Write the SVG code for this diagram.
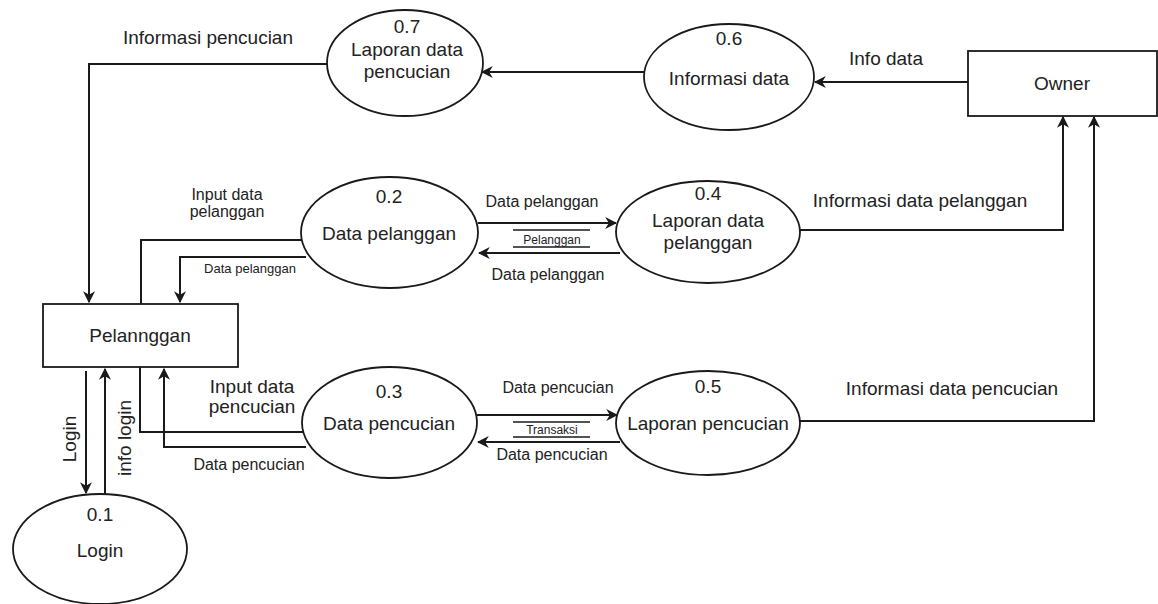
<svg xmlns="http://www.w3.org/2000/svg" width="1158" height="604" viewBox="0 0 1158 604">
<style>
.shape{fill:#fff;stroke:#1a1a1a;stroke-width:1.8}
.ln{fill:none;stroke:#1a1a1a;stroke-width:2}
.st{fill:none;stroke:#1a1a1a;stroke-width:1.6}
text{font-family:"Liberation Sans",Arial,sans-serif;fill:#222;text-anchor:middle}
.lg{font-size:19px}
.md{font-size:16px}
.sm{font-size:13px}
.xs{font-size:12px}
</style>
<defs>
<marker id="arr" viewBox="0 0 10 10" refX="9" refY="5" markerWidth="12" markerHeight="12" orient="auto" markerUnits="userSpaceOnUse">
<path d="M0,0 L10,5 L0,10 L3,5 z" fill="#1a1a1a"/>
</marker>
</defs>
<rect width="1158" height="604" fill="#fff"/>
<g id="connectors">
<path class="ln" d="M327,64 H89 V302" marker-end="url(#arr)"/>
<path class="ln" d="M644,72 H482" marker-end="url(#arr)"/>
<path class="ln" d="M968,82 H815" marker-end="url(#arr)"/>
<path class="ln" d="M302,240 H141 V304"/>
<path class="ln" d="M306,257 H180 V302" marker-end="url(#arr)"/>
<path class="ln" d="M478,223 H616" marker-end="url(#arr)"/>
<path class="ln" d="M620,253 H479" marker-end="url(#arr)"/>
<path class="ln" d="M800,230 H1063 V117" marker-end="url(#arr)"/>
<path class="ln" d="M86,371 V493" marker-end="url(#arr)"/>
<path class="ln" d="M105,494 V369" marker-end="url(#arr)"/>
<path class="ln" d="M140,367 V432 H303"/>
<path class="ln" d="M306,447 H164 V369" marker-end="url(#arr)"/>
<path class="ln" d="M477,415 H617" marker-end="url(#arr)"/>
<path class="ln" d="M620,442 H478" marker-end="url(#arr)"/>
<path class="ln" d="M800,421 H1094 V117" marker-end="url(#arr)"/>
<line class="st" x1="513" y1="230" x2="590" y2="230"/>
<line class="st" x1="513" y1="247" x2="590" y2="247"/>
<line class="st" x1="513" y1="422" x2="590" y2="422"/>
<line class="st" x1="513" y1="437" x2="590" y2="437"/>
<text class="xs" x="552" y="244">Pelanggan</text>
<text class="xs" x="552" y="434">Transaksi</text>
<text class="lg" x="208" y="44">Informasi pencucian</text>
<text class="lg" x="886" y="65">Info data</text>
<text class="md" x="227" y="200">Input data</text>
<text class="md" x="227" y="217">pelanggan</text>
<text class="sm" x="250" y="273">Data pelanggan</text>
<text class="md" x="542" y="207">Data pelanggan</text>
<text class="md" x="548" y="280">Data pelanggan</text>
<text class="lg" x="920" y="207">Informasi data pelanggan</text>
<text class="lg" x="252" y="393">Input data</text>
<text class="lg" x="252" y="413">pencucian</text>
<text class="md" x="249" y="470">Data pencucian</text>
<text class="md" x="558" y="393">Data pencucian</text>
<text class="md" x="552" y="460">Data pencucian</text>
<text class="lg" x="952" y="395">Informasi data pencucian</text>
<text class="lg" transform="translate(76,439) rotate(-90)">Login</text>
<text class="lg" transform="translate(131,438) rotate(-90)">info login</text>
</g>
<g id="n07">
<ellipse class="shape" cx="405" cy="63" rx="78" ry="53"/>
<text class="lg" x="407" y="33">0.7</text>
<text class="lg" x="407" y="56">Laporan data</text>
<text class="lg" x="407" y="78">pencucian</text>
</g>
<g id="n06">
<ellipse class="shape" cx="729" cy="77" rx="85" ry="53"/>
<text class="lg" x="729" y="45">0.6</text>
<text class="lg" x="729" y="85">Informasi data</text>
</g>
<g id="owner">
<rect class="shape" x="968" y="51" width="189" height="65"/>
<text class="lg" x="1062" y="90">Owner</text>
</g>
<g id="n02">
<ellipse class="shape" cx="389.5" cy="232.5" rx="88.5" ry="55.5"/>
<text class="lg" x="389" y="203">0.2</text>
<text class="lg" x="389" y="240">Data pelanggan</text>
</g>
<g id="n04">
<ellipse class="shape" cx="708" cy="232" rx="92" ry="51"/>
<text class="lg" x="708" y="200">0.4</text>
<text class="lg" x="708" y="227">Laporan data</text>
<text class="lg" x="708" y="249">pelanggan</text>
</g>
<g id="pelanggan">
<rect class="shape" x="43" y="304" width="195" height="63"/>
<text class="lg" x="140" y="342">Pelannggan</text>
</g>
<g id="n03">
<ellipse class="shape" cx="389.5" cy="422.5" rx="87.5" ry="55.5"/>
<text class="lg" x="389" y="398">0.3</text>
<text class="lg" x="389" y="430">Data pencucian</text>
</g>
<g id="n05">
<ellipse class="shape" cx="708" cy="423" rx="92" ry="52"/>
<text class="lg" x="708" y="393">0.5</text>
<text class="lg" x="708" y="430">Laporan pencucian</text>
</g>
<g id="n01">
<ellipse class="shape" cx="100" cy="549" rx="87" ry="55"/>
<text class="lg" x="100" y="521">0.1</text>
<text class="lg" x="100" y="557">Login</text>
</g>
</svg>
